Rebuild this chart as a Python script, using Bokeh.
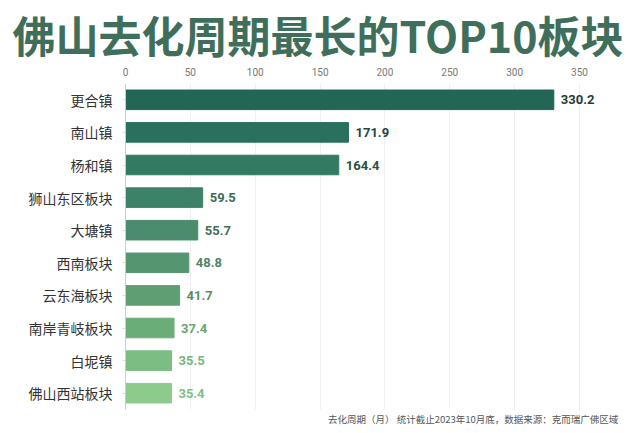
from bokeh.plotting import figure
from bokeh.models import ColumnDataSource, FactorRange, Range1d, FixedTicker, Title
from bokeh.embed import file_html
from bokeh.resources import INLINE
from bokeh.core.properties import value

categories = ["更合镇", "南山镇", "杨和镇", "狮山东区板块", "大塘镇", "西南板块", "云东海板块", "南岸青岐板块", "白坭镇", "佛山西站板块"]
values = [330.2, 171.9, 164.4, 59.5, 55.7, 48.8, 41.7, 37.4, 35.5, 35.4]
bar_colors = ["#216656", "#2a705e", "#337a63", "#3d8268", "#4a8c6c", "#559570", "#5e9e72", "#6aad78", "#7bbd82", "#8ccb8c"]
label_colors = ["#1f3d36", "#24463e", "#2b4f45", "#3b6a58", "#3f6e5a", "#4f8566", "#5a8d64", "#6aa66f", "#77b67c", "#7fbf84"]
x_ticks = [0, 50, 100, 150, 200, 250, 300, 350]
title_text = "佛山去化周期最长的TOP10板块"
footer_text = "去化周期（月）  统计截止2023年10月底，数据来源：克而瑞广佛区域"

src = ColumnDataSource(dict(cat=categories, val=values, color=bar_colors,
                            lcolor=label_colors, label=[f"{v:.1f}" for v in values]))

p = figure(width=624, height=425, output_backend="svg", toolbar_location=None,
           y_range=FactorRange(factors=categories[::-1], range_padding=0),
           x_range=Range1d(0, 381.6), x_axis_location="above",
           min_border_left=125, min_border_right=4, min_border_bottom=0, min_border_top=0)

p.title.text = title_text
p.title.text_font = "Noto Sans CJK SC"
p.title.text_font_size = "43px"
p.title.text_font_style = "bold"
p.title.text_color = "#3f6e5a"
p.title.text_line_height = 0.7
p.title.offset = -113
p.title.standoff = 0

p.hbar(y="cat", right="val", left=0, height=0.6, color="color", source=src)
p.text(x="val", y="cat", text="label", source=src, x_offset=7,
       text_baseline="middle", text_align="left", text_color="lcolor",
       text_font=value("Roboto"), text_font_style="bold", text_font_size="13px")

xa = p.xaxis[0]
xa.ticker = FixedTicker(ticks=x_ticks)
xa.axis_line_color = None
xa.major_tick_line_color = None
xa.minor_tick_line_color = None
xa.major_label_text_font = "Roboto"
xa.major_label_text_font_size = "10px"
xa.major_label_text_color = "#777777"
xa.major_label_standoff = 2

ya = p.yaxis[0]
ya.axis_line_color = "#cccccc"
ya.major_tick_line_color = "#dddddd"
ya.major_tick_out = 3
ya.major_tick_in = 0
ya.minor_tick_line_color = None
ya.major_label_text_font = "Noto Sans CJK SC"
ya.major_label_text_font_size = "14px"
ya.major_label_text_color = "#333333"
ya.major_label_standoff = 10

p.xgrid.grid_line_color = "#efefef"
p.xgrid.ticker = FixedTicker(ticks=x_ticks)
p.ygrid.grid_line_color = None
p.outline_line_color = None

foot = Title(text=footer_text, align="right", text_font="Noto Sans CJK SC",
             text_font_size="9.5px", text_font_style="normal", text_color="#555555",
             offset=0, standoff=0)
p.add_layout(foot, "below")

open("out.html", "w").write(file_html(p, INLINE))
